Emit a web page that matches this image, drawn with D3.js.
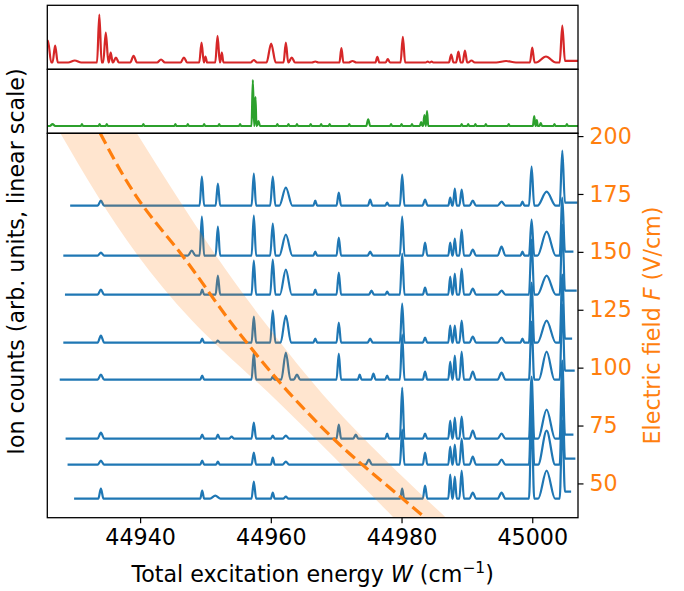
<!DOCTYPE html>
<html><head><meta charset="utf-8">
<script src="https://cdn.jsdelivr.net/npm/d3@7"></script>
<style>body{margin:0;background:#fff}svg{display:block}text{font-family:"DejaVu Sans",sans-serif}</style>
</head><body><svg id="c" width="684" height="591"></svg>
<script>
// ---------- data ----------
const energyDomain = [44925.8, 45007.0];
const fieldDomain = [35.2, 201.2];
const energyTicks = [44940, 44960, 44980, 45000];
const fieldTicks = [50, 75, 100, 125, 150, 175, 200];

// blue traces: vertical offset (arb. units), start/end energy, end level
const traceOffsets = [312, 262, 223, 175, 138, 79, 53, 19];
const traceStart = [44929.3, 44928.25, 44928.5, 44928.25, 44927.7, 44928.6, 44928.9, 44929.9];
const traceEnd = [45006.9, 45006.3, 45006.8, 45006.1, 45006.5, 45006.3, 45006.6, 45005.95];
const traceEndLevel = [3, 4, 4, 4, 9, 4, 6, 7];
// peaks: [energy, height, half-width]
const peaks1 = [[44934.0,5,0.5],[44949.45,29,0.35],[44951.9,22,0.35],[44957.4,32,0.35],[44960.3,29,0.4],[44962.3,18,1.0],[44966.8,5,0.3],[44970.4,13,0.35],[44975.2,6,0.35],[44977.8,3,0.3],[44980.1,31,0.35],[44983.6,6,0.4],[44987.45,8,0.3],[44988.15,17,0.3],[44989.2,16,0.35],[44990.9,5,0.5],[44995.3,4,0.6],[44998.5,4,0.3],[44999.9,39,0.4],[45002.2,14,1.4],[45004.6,55,0.4]];
const peaks2 = [[44934.0,3,0.5],[44947.9,5,0.6],[44949.45,39,0.35],[44951.9,29,0.35],[44957.4,40,0.35],[44960.3,32,0.4],[44962.3,21,1.0],[44966.8,4,0.3],[44970.4,18,0.35],[44975.2,4,0.4],[44980.1,39,0.35],[44983.6,13,0.35],[44987.45,13,0.3],[44988.15,17,0.3],[44989.2,26,0.35],[44990.9,6,0.5],[44995.3,9,0.6],[44998.5,4,0.3],[44999.9,36,0.4],[45002.2,24,1.4],[45004.6,58,0.4]];
const peaks3 = [[44934.0,5,0.5],[44949.5,5,0.3],[44951.9,19,0.35],[44957.4,34,0.35],[44960.3,35,0.4],[44962.3,25,0.9],[44966.8,5,0.3],[44970.4,22,0.35],[44975.4,4,0.4],[44977.8,3,0.3],[44980.1,41,0.35],[44983.6,7,0.35],[44987.45,18,0.3],[44988.15,21,0.3],[44989.2,26,0.35],[44990.9,6,0.5],[44995.3,4,0.6],[44999.9,55,0.4],[45002.2,19,1.4],[45004.6,70,0.4]];
const peaks4 = [[44934.0,7,0.5],[44949.5,4,0.3],[44951.9,2,0.3],[44957.4,26,0.35],[44960.3,32,0.4],[44962.3,27,0.8],[44966.8,4,0.3],[44970.4,20,0.35],[44975.2,4,0.4],[44980.1,39,0.35],[44983.6,5,0.35],[44987.45,17,0.3],[44988.15,17,0.3],[44989.2,22,0.35],[44990.9,6,0.5],[44995.3,5,0.6],[44998.5,4,0.3],[44999.9,60,0.4],[45002.2,22,1.4],[45004.6,68,0.4]];
const peaks5 = [[44934.0,5,0.5],[44949.5,4,0.3],[44957.4,27,0.35],[44960.3,3,0.3],[44962.3,27,0.7],[44964.0,5,0.5],[44970.4,26,0.35],[44973.6,5,0.3],[44975.7,6,0.35],[44977.8,4,0.3],[44980.1,45,0.35],[44983.6,8,0.35],[44987.45,18,0.3],[44988.15,24,0.3],[44989.2,28,0.35],[44990.9,8,0.5],[44995.3,7,0.6],[44999.9,58,0.4],[45002.2,28,1.2],[45004.6,75,0.4]];
const peaks6 = [[44934.0,6,0.5],[44949.5,4,0.3],[44951.9,4,0.3],[44954.0,2,0.4],[44957.4,16,0.35],[44960.3,3,0.3],[44962.3,3,0.5],[44970.4,14,0.35],[44973.0,4,0.4],[44977.8,5,0.3],[44980.1,51,0.35],[44983.6,5,0.35],[44987.45,18,0.3],[44988.15,21,0.3],[44989.2,22,0.35],[44990.9,8,0.5],[44995.3,5,0.6],[44999.9,62,0.4],[45002.2,29,1.3],[45004.6,78,0.4]];
const peaks7 = [[44934.0,4,0.5],[44949.5,4,0.3],[44951.9,3,0.3],[44957.4,12,0.35],[44960.3,7,0.3],[44962.3,3,0.5],[44975.0,5,0.5],[44980.1,35,0.35],[44983.6,12,0.35],[44987.45,18,0.3],[44988.15,20,0.3],[44989.2,26,0.35],[44990.9,8,0.5],[44995.3,5,0.6],[44999.9,68,0.4],[45002.2,34,1.3],[45004.6,78,0.4]];
const peaks8 = [[44934.0,10,0.4],[44949.5,8,0.3],[44951.5,3,0.8],[44957.4,17,0.35],[44960.3,6,0.3],[44962.3,2,0.4],[44980.1,10,0.3],[44983.6,13,0.35],[44987.45,24,0.3],[44988.15,22,0.3],[44989.2,28,0.35],[44990.9,6,0.5],[44995.3,6,0.6],[44999.9,82,0.4],[45002.2,28,1.3],[45004.6,78,0.4]];
const bluePeaks = [peaks1, peaks2, peaks3, peaks4, peaks5, peaks6, peaks7, peaks8];

// red (top) spectrum
const redBase = 6.8, redEndLevel = 1.7;
const redPeaks = [[44925.9,22,0.5],[44927.0,17,0.4],[44930.0,2,1.0],[44933.76,48,0.35],[44934.75,30,0.4],[44935.5,10,0.3],[44936.3,5,0.45],[44939.0,6.6,0.5],[44943.2,3,0.6],[44946.7,5,0.5],[44949.4,20,0.35],[44950.0,6,0.25],[44951.85,26.6,0.35],[44952.5,10,0.25],[44957.4,2.5,0.5],[44960.05,19,0.7],[44962.3,20,0.35],[44963.2,5,0.5],[44966.8,1,0.5],[44970.8,14.3,0.3],[44972.5,1.5,0.6],[44976.3,5.7,0.3],[44977.9,3.3,0.35],[44980.2,25.7,0.35],[44984.0,1,0.3],[44984.6,1,0.25],[44987.6,8,0.35],[44988.7,11,0.35],[44989.7,12,0.35],[44990.7,2,0.5],[44996.0,1.5,1.5],[45000.0,15,0.35],[45002.1,6,1.5],[45004.6,37,0.4]];

// green (middle) spectrum
const greenBase = 7.3, greenEndLevel = 0;
const greenPeaks = [[44926.6,2,0.4],[44931.1,2,0.15],[44933.8,2,0.15],[44934.9,2,0.15],[44940.5,2,0.15],[44945.4,2,0.15],[44947.3,2,0.15],[44949.8,2,0.15],[44952.1,2,0.15],[44955.3,2,0.15],[44957.25,46,0.2],[44957.65,29,0.15],[44958.1,5,0.25],[44961.0,2,0.15],[44962.7,2,0.15],[44964.0,2,0.15],[44966.1,2,0.15],[44967.7,2,0.15],[44969.0,2,0.15],[44972.0,2,0.15],[44974.9,6.7,0.3],[44978.4,2,0.15],[44980.0,2,0.15],[44981.6,2,0.15],[44983.0,4,0.2],[44983.5,11,0.2],[44983.9,15,0.18],[44989.2,2,0.15],[44990.2,2,0.15],[44991.3,2,0.15],[44992.9,2,0.15],[44996.4,2,0.15],[45000.3,10,0.2],[45000.7,6,0.15],[45001.3,3,0.2],[45003.4,2,0.15],[45005.3,2,0.15]];

// Stark curve (dashed) and its uncertainty band
const dashField  = [201.2, 171.6, 147.9, 116.2, 83.9, 66.6, 44.3, 35.2];
const dashEnergy = [44933.9, 44940.0, 44946.6, 44954.8, 44964.5, 44970.6, 44979.8, 44983.6];
const bandField = [201.2, 120.5, 83.9, 35.2];
const bandLow   = [44927.8, 44947.9, 44961.6, 44978.8];
const bandHigh  = [44939.5, 44958.8, 44969.4, 44986.8];

// ---------- layout ----------
const L = 47.3, R = 578, T = 5.3, D1 = 69.3, D2 = 133.3, B = 517.7;
const FS = 22.2;
const svg = d3.select("#c");
const x = d3.scaleLinear().domain(energyDomain).range([L, R]);
const yF = d3.scaleLinear().domain(fieldDomain).range([B, D2]);
const yC = d3.scaleLinear().domain([0, B - D2]).range([B, D2]);
const yRed = d3.scaleLinear().domain([0, D1 - T]).range([D1, T]);
const yGreen = d3.scaleLinear().domain([0, D2 - D1]).range([D2, D1]);

const defs = svg.append("defs");
[["clipRed", T, D1], ["clipGreen", D1, D2], ["clipMain", D2, B]].forEach(([id, a, b]) => {
  defs.append("clipPath").attr("id", id).append("rect")
    .attr("x", L).attr("y", a).attr("width", R - L).attr("height", b - a);
});

function vertices(start, end, peaks, endLevel) {
  const v = [];
  if (peaks[0][0] - peaks[0][2] > start) v.push([start, 0]);
  peaks.forEach((p, i) => {
    const last = i === peaks.length - 1;
    v.push([p[0] - p[2], 0], [p[0], p[1]], [p[0] + p[2], last ? endLevel : 0]);
  });
  v.push([end, endLevel]);
  return v;
}
const spec = (yFn) => d3.line().curve(d3.curveMonotoneX).x(d => x(d[0])).y(yFn);

// red panel
svg.append("g").attr("clip-path", "url(#clipRed)").append("path")
  .datum(vertices(energyDomain[0], energyDomain[1], redPeaks, redEndLevel))
  .attr("fill", "none").attr("stroke", "#d62728").attr("stroke-width", 2.2)
  .attr("stroke-linejoin", "round")
  .attr("d", spec(d => yRed(redBase + d[1])));

// green panel
svg.append("g").attr("clip-path", "url(#clipGreen)").append("path")
  .datum(vertices(energyDomain[0], energyDomain[1], greenPeaks, greenEndLevel))
  .attr("fill", "none").attr("stroke", "#2ca02c").attr("stroke-width", 2.2)
  .attr("stroke-linejoin", "round")
  .attr("d", spec(d => yGreen(greenBase + d[1])));

// main panel
const gMain = svg.append("g").attr("clip-path", "url(#clipMain)");
bluePeaks.forEach((pk, i) => {
  gMain.append("path")
    .datum(vertices(traceStart[i], traceEnd[i], pk, traceEndLevel[i]))
    .attr("fill", "none").attr("stroke", "#1f77b4").attr("stroke-width", 2.2)
    .attr("stroke-linejoin", "round")
    .attr("d", spec(d => yC(traceOffsets[i] + d[1])));
});

const bandData = bandField.map((f, i) => ({f, lo: bandLow[i], hi: bandHigh[i]}));
gMain.append("path").datum(bandData)
  .attr("fill", "#ff7f0e").attr("fill-opacity", 0.2)
  .attr("d", d3.area().curve(d3.curveMonotoneY)
    .y(d => yF(d.f)).x0(d => x(d.lo)).x1(d => x(d.hi)));

const dashData = dashField.map((f, i) => ({f, w: dashEnergy[i]}));
gMain.append("path").datum(dashData)
  .attr("fill", "none").attr("stroke", "#ff7f0e").attr("stroke-width", 3.2)
  .attr("stroke-dasharray", "12,5.5")
  .attr("d", d3.line().curve(d3.curveMonotoneY).x(d => x(d.w)).y(d => yF(d.f)));

// frames
[[T, D1], [D1, D2], [D2, B]].forEach(([a, b]) => {
  svg.append("rect").attr("x", L).attr("y", a).attr("width", R - L).attr("height", b - a)
    .attr("fill", "none").attr("stroke", "#000").attr("stroke-width", 1.3);
});

// bottom axis
const xAxis = svg.append("g").attr("transform", `translate(0,${B})`)
  .call(d3.axisBottom(x).tickValues(energyTicks).tickFormat(d3.format("d")).tickSize(5.5).tickPadding(6));
xAxis.select(".domain").remove();
xAxis.selectAll(".tick line").attr("stroke", "#000").attr("stroke-width", 1.2);
xAxis.selectAll(".tick text").attr("font-size", FS).attr("fill", "#000")
  .attr("font-family", "DejaVu Sans");

// right axis
const yAxis = svg.append("g").attr("transform", `translate(${R},0)`)
  .call(d3.axisRight(yF).tickValues(fieldTicks).tickSize(5.5).tickPadding(6));
yAxis.select(".domain").remove();
yAxis.selectAll(".tick line").attr("stroke", "#000").attr("stroke-width", 1.2);
yAxis.selectAll(".tick text").attr("font-size", FS).attr("fill", "#ff7f0e")
  .attr("font-family", "DejaVu Sans");

// labels
const xl = svg.append("text").attr("x", (L + R) / 2).attr("y", 582)
  .attr("text-anchor", "middle").attr("font-size", FS).attr("fill", "#000");
xl.append("tspan").text("Total excitation energy ");
xl.append("tspan").attr("font-style", "italic").text("W");
xl.append("tspan").text(" (cm");
xl.append("tspan").attr("font-size", FS * 0.7).attr("dy", -9).text("\u22121");
xl.append("tspan").attr("dy", 9).text(")");

svg.append("text").attr("transform", `translate(23.5,${(T + B) / 2}) rotate(-90)`)
  .attr("text-anchor", "middle").attr("font-size", FS).attr("fill", "#000")
  .text("Ion counts (arb. units, linear scale)");

const rl = svg.append("text").attr("transform", `translate(660,${(D2 + B) / 2}) rotate(-90)`)
  .attr("text-anchor", "middle").attr("font-size", FS).attr("fill", "#ff7f0e");
rl.append("tspan").text("Electric field ");
rl.append("tspan").attr("font-style", "italic").text("F");
rl.append("tspan").text(" (V/cm)");
</script></body></html>
